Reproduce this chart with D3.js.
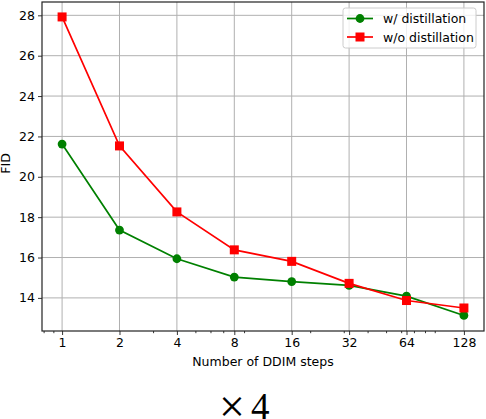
<!DOCTYPE html>
<html>
<head>
<meta charset="utf-8">
<script src="https://cdn.jsdelivr.net/npm/d3@7"></script>
<style>
  body { margin: 0; background: #fff; overflow: hidden; }
  svg { display: block; }
  text { font-family: "DejaVu Sans", sans-serif; }
</style>
</head>
<body>
<div id="chart"></div>
<script>
const steps = [1, 2, 4, 8, 16, 32, 64, 128];
const withDistill = [21.62, 17.36, 15.94, 15.03, 14.81, 14.62, 14.09, 13.13];
const withoutDistill = [27.92, 21.53, 18.26, 16.38, 15.81, 14.72, 13.87, 13.50];
const yTicks = [14, 16, 18, 20, 22, 24, 26, 28];
const minorTicks = [0.8, 0.9, 3, 5, 6, 7, 9, 20, 30, 40, 50, 60, 70, 80, 90];

const series = [
    { name: "w/ distillation", values: withDistill, color: "#008000", marker: "circle" },
    { name: "w/o distillation", values: withoutDistill, color: "#ff0000", marker: "square" }
];

const W = 486, H = 419;
const margin = { top: 2, right: 2, bottom: 88, left: 42 };
const width = W - margin.left - margin.right;
const innerHeight = H - margin.top - margin.bottom;
const fontSize = "12.5px";

const svg = d3.select("#chart").append("svg")
    .attr("width", W)
    .attr("height", H);

const g = svg.append("g")
    .attr("transform", `translate(${margin.left}, ${margin.top})`);

// Scales (log base 2, 5% margins like matplotlib)
const x = d3.scaleLog().base(2)
    .domain([Math.pow(2, -0.35), Math.pow(2, 7.35)])
    .range([0, width]);

const y = d3.scaleLinear()
    .domain([12.36, 28.66])
    .range([innerHeight, 0]);

// Grid
g.selectAll(".vgrid")
    .data(steps)
    .enter()
    .append("line")
    .attr("x1", d => x(d))
    .attr("x2", d => x(d))
    .attr("y1", 0)
    .attr("y2", innerHeight)
    .attr("stroke", "#b0b0b0")
    .attr("stroke-width", 1);

g.selectAll(".hgrid")
    .data(yTicks)
    .enter()
    .append("line")
    .attr("x1", 0)
    .attr("x2", width)
    .attr("y1", d => y(d))
    .attr("y2", d => y(d))
    .attr("stroke", "#b0b0b0")
    .attr("stroke-width", 1);

// Axes
const xAxis = g.append("g")
    .attr("transform", `translate(0, ${innerHeight})`)
    .call(d3.axisBottom(x).tickValues(steps).tickFormat(d3.format("d")).tickSize(4).tickPadding(3));

const xMinor = g.append("g")
    .attr("transform", `translate(0, ${innerHeight})`)
    .call(d3.axisBottom(x).tickValues(minorTicks).tickFormat("").tickSize(2.2));

const yAxis = g.append("g")
    .call(d3.axisLeft(y).tickValues(yTicks).tickSize(4).tickPadding(3));

[xAxis, xMinor, yAxis].forEach(a => {
    a.selectAll("text").style("font-size", fontSize).attr("fill", "#000");
    a.selectAll("line").attr("stroke", "#000").attr("stroke-width", 0.8);
    a.select(".domain").remove();
});

// Frame
g.append("rect")
    .attr("x", 0)
    .attr("y", 0)
    .attr("width", width)
    .attr("height", innerHeight)
    .attr("fill", "none")
    .attr("stroke", "#222")
    .attr("stroke-width", 1.2);

// Lines and markers
const line = d3.line()
    .x((d, i) => x(steps[i]))
    .y(d => y(d));

series.forEach(s => {
    g.append("path")
        .datum(s.values)
        .attr("fill", "none")
        .attr("stroke", s.color)
        .attr("stroke-width", 1.7)
        .attr("d", line);

    if (s.marker === "circle") {
        g.selectAll(null)
            .data(s.values)
            .enter()
            .append("circle")
            .attr("cx", (d, i) => x(steps[i]))
            .attr("cy", d => y(d))
            .attr("r", 4.4)
            .attr("fill", s.color);
    } else {
        g.selectAll(null)
            .data(s.values)
            .enter()
            .append("rect")
            .attr("x", (d, i) => x(steps[i]) - 4.5)
            .attr("y", d => y(d) - 4.5)
            .attr("width", 9)
            .attr("height", 9)
            .attr("fill", s.color);
    }
});

// Axis labels
g.append("text")
    .attr("x", width / 2)
    .attr("y", innerHeight + 35)
    .attr("text-anchor", "middle")
    .style("font-size", fontSize)
    .text("Number of DDIM steps");

g.append("text")
    .attr("transform", "rotate(-90)")
    .attr("x", -innerHeight / 2 + 3)
    .attr("y", -margin.left + 10)
    .attr("text-anchor", "middle")
    .style("font-size", fontSize)
    .text("FID");

// Legend
const legend = g.append("g")
    .attr("transform", `translate(${343 - margin.left}, ${8 - margin.top})`);

legend.append("rect")
    .attr("width", 133)
    .attr("height", 40)
    .attr("rx", 2.5)
    .attr("fill", "#fff")
    .attr("fill-opacity", 0.8)
    .attr("stroke", "#cccccc")
    .attr("stroke-width", 1);

series.forEach((s, i) => {
    const ly = 10.5 + i * 18.5;
    legend.append("line")
        .attr("x1", 4)
        .attr("x2", 30)
        .attr("y1", ly)
        .attr("y2", ly)
        .attr("stroke", s.color)
        .attr("stroke-width", 1.7);
    if (s.marker === "circle") {
        legend.append("circle")
            .attr("cx", 17)
            .attr("cy", ly)
            .attr("r", 4.4)
            .attr("fill", s.color);
    } else {
        legend.append("rect")
            .attr("x", 12.5)
            .attr("y", ly - 4.5)
            .attr("width", 9)
            .attr("height", 9)
            .attr("fill", s.color);
    }
    legend.append("text")
        .attr("x", 40)
        .attr("y", ly + 4.5)
        .style("font-size", fontSize)
        .text(s.name);
});

// Caption below the plot (cut at the bottom edge as in the original)
const caption = svg.append("text")
    .attr("x", 219)
    .attr("y", 419)
    .style("font-family", "'Liberation Serif', serif");
caption.append("tspan")
    .style("font-size", "46px")
    .attr("dy", 3)
    .text("×");
caption.append("tspan")
    .style("font-size", "37px")
    .attr("dx", 6)
    .attr("dy", -3)
    .text("4");
</script>
</body>
</html>
